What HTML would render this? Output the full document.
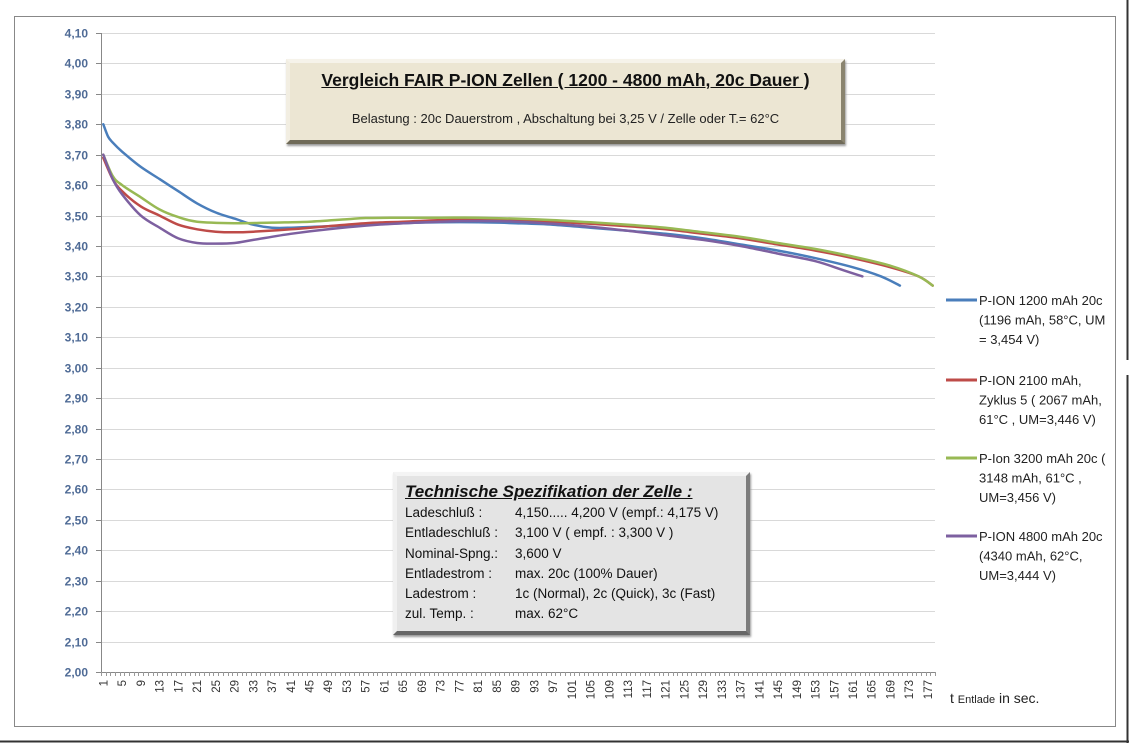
<!DOCTYPE html>
<html><head><meta charset="utf-8"><style>
body{margin:0;width:1129px;height:743px;background:#fff;overflow:hidden;font-family:"Liberation Sans",sans-serif}
svg{position:absolute;left:0;top:0}
.box{position:absolute;box-sizing:border-box;font-family:"Liberation Sans",sans-serif}
</style></head><body>
<svg id="chart" width="1129" height="743">
<rect x="14.5" y="16.5" width="1101" height="710" fill="#fff" stroke="#888" stroke-width="1"/>
<line x1="0" y1="741.5" x2="1129" y2="741.5" stroke="#333" stroke-width="2"/>
<line x1="1127.5" y1="0" x2="1127.5" y2="360" stroke="#333" stroke-width="2"/>
<line x1="1127.5" y1="375" x2="1127.5" y2="743" stroke="#333" stroke-width="2"/>
<g id="grid"></g><g id="axes"></g><g id="series"></g><g id="legend"></g>
<text x="950" y="703" font-size="14" fill="#222">t <tspan font-size="11">Entlade</tspan> in sec.</text>
</svg>
<div class="box" style="left:286px;top:59px;width:559px;height:85px;background:#ece6d3;border-style:solid;border-width:4px;border-color:#f6f3ea #8a846f #6f6a58 #f2eee2;box-shadow:1px 2px 2px #999;text-align:center">
<div style="font-size:17.5px;font-weight:bold;text-decoration:underline;color:#111;margin-top:7px">Vergleich FAIR P-ION Zellen ( 1200 - 4800 mAh, 20c Dauer )</div>
<div style="font-size:13px;color:#222;margin-top:20px">Belastung : 20c Dauerstrom , Abschaltung bei 3,25 V / Zelle oder T.= 62°C</div>
</div>
<div class="box" style="left:393px;top:472px;width:357px;height:163px;background:#e4e4e4;border-style:solid;border-width:4px;border-color:#f4f4f4 #7c7c7c #666 #f0f0f0;box-shadow:1px 2px 2px #999;padding:5px 0 0 8px;font-size:13.5px;color:#111;line-height:20.3px">
<div style="font-size:17px;font-weight:bold;font-style:italic;text-decoration:underline;line-height:22px">Technische Spezifikation der Zelle :</div>
<div><span style="display:inline-block;width:110px">Ladeschluß :</span>4,150..... 4,200 V (empf.: 4,175 V)</div>
<div><span style="display:inline-block;width:110px">Entladeschluß :</span>3,100 V ( empf. : 3,300 V )</div>
<div><span style="display:inline-block;width:110px">Nominal-Spng.:</span>3,600 V</div>
<div><span style="display:inline-block;width:110px">Entladestrom :</span>max. 20c (100% Dauer)</div>
<div><span style="display:inline-block;width:110px">Ladestrom :</span>1c (Normal), 2c (Quick), 3c (Fast)</div>
<div><span style="display:inline-block;width:110px">zul. Temp. :</span>max. 62°C</div>
</div>
<script>
const yTicks=[2.0,2.1,2.2,2.3,2.4,2.5,2.6,2.7,2.8,2.9,3.0,3.1,3.2,3.3,3.4,3.5,3.6,3.7,3.8,3.9,4.0,4.1];
const nCategories=178;
const blueX=[1,2,3,5,9,13,17,21,25,29,33,37,41,49,57,65,73,81,89,97,105,113,121,129,137,145,153,161,167,171];
const blueY=[3.80,3.76,3.74,3.71,3.66,3.62,3.58,3.54,3.51,3.49,3.47,3.46,3.46,3.465,3.47,3.475,3.478,3.478,3.475,3.47,3.46,3.45,3.44,3.425,3.405,3.385,3.36,3.33,3.30,3.27];
const redX=[1,3,5,9,13,17,21,25,29,33,41,49,57,65,73,81,89,97,105,113,121,129,137,145,153,161,169,175,178];
const redY=[3.69,3.62,3.58,3.53,3.50,3.47,3.455,3.447,3.445,3.447,3.455,3.465,3.475,3.48,3.485,3.488,3.485,3.48,3.473,3.465,3.455,3.44,3.425,3.405,3.385,3.36,3.33,3.30,3.27];
const greenX=[1,3,5,9,13,17,21,29,37,45,53,57,65,73,81,89,97,105,113,121,129,137,145,153,161,169,175,178];
const greenY=[3.70,3.63,3.60,3.56,3.52,3.495,3.48,3.475,3.477,3.48,3.488,3.492,3.493,3.493,3.493,3.49,3.485,3.478,3.47,3.46,3.445,3.43,3.41,3.39,3.365,3.335,3.30,3.27];
const purpleX=[1,3,5,9,13,17,21,25,29,33,41,49,57,65,73,81,89,97,105,113,121,129,137,145,153,159,163];
const purpleY=[3.70,3.62,3.57,3.50,3.46,3.425,3.41,3.408,3.41,3.42,3.44,3.455,3.467,3.475,3.48,3.482,3.48,3.473,3.463,3.45,3.435,3.42,3.40,3.375,3.35,3.32,3.30];
const legendLabels=[["P-ION 1200 mAh 20c","(1196 mAh, 58°C, UM","= 3,454 V)"],["P-ION 2100 mAh,","Zyklus 5  ( 2067 mAh,","61°C , UM=3,446 V)"],["P-Ion 3200 mAh 20c (","3148 mAh, 61°C ,","UM=3,456 V)"],["P-ION 4800 mAh 20c","(4340 mAh, 62°C,","UM=3,444 V)"]];
const colors=["#4a7ebb","#be4b48","#98b954","#7d60a0"];
const seriesNames=["series-1200mah","series-2100mah","series-3200mah","series-4800mah"];
const L=101,R=935,T=33,B=672,yMin=2.0,yMax=4.1;
const NS="http://www.w3.org/2000/svg";
const xs=i=>L+(i-0.5)*(R-L)/nCategories;
const ys=v=>B-(v-yMin)/(yMax-yMin)*(B-T);
function mk(tag,attrs,parent){const e=document.createElementNS(NS,tag);for(const k in attrs)e.setAttribute(k,attrs[k]);parent.appendChild(e);return e;}
function smoothPath(P){let d='M'+P[0][0].toFixed(1)+','+P[0][1].toFixed(1);
 for(let i=0;i<P.length-1;i++){const p0=P[Math.max(i-1,0)],p1=P[i],p2=P[i+1],p3=P[Math.min(i+2,P.length-1)];
  const c1=[p1[0]+(p2[0]-p0[0])/6,p1[1]+(p2[1]-p0[1])/6],c2=[p2[0]-(p3[0]-p1[0])/6,p2[1]-(p3[1]-p1[1])/6];
  d+=` C${c1[0].toFixed(1)},${c1[1].toFixed(1)} ${c2[0].toFixed(1)},${c2[1].toFixed(1)} ${p2[0].toFixed(1)},${p2[1].toFixed(1)}`;}
 return d;}
const grid=document.getElementById('grid'),axes=document.getElementById('axes'),ser=document.getElementById('series'),leg=document.getElementById('legend');
yTicks.forEach(v=>{const y=Math.round(ys(v))+0.5;
 if(v>2.0){const g=mk('line',{x1:L,x2:R,y1:y,y2:y,stroke:'#d9d9d9','stroke-width':1},grid);
 
 }
 const t=mk('line',{x1:L-5,x2:L,y1:y,y2:y,stroke:'#888'},axes);
 
 
 const lb=mk('text',{x:L-13,y:y+4,'text-anchor':'end','font-size':12,'font-weight':'bold',fill:'#4f6b96'},axes);
 lb.textContent=v.toFixed(2).replace('.',',');
 
 
});
const ya=mk('line',{x1:L+0.5,x2:L+0.5,y1:T,y2:B,stroke:'#888'},axes);


const xa=mk('line',{x1:L,x2:R,y1:B+0.5,y2:B+0.5,stroke:'#888'},axes);


for(let i=0;i<=nCategories;i++){const x=Math.round(L+i*(R-L)/nCategories)+0.5;
 const t=mk('line',{x1:x,x2:x,y1:B,y2:B+4,stroke:'#999'},axes);
 
 }
for(let i=1;i<=177;i+=4){const x=xs(i);
 const lb=mk('text',{x:0,y:0,transform:`translate(${x+4},${B+8}) rotate(-90)`,'text-anchor':'end','font-size':11.5,fill:'#333'},axes);
 lb.textContent=i;
 
 }
[[blueX,blueY],[redX,redY],[greenX,greenY],[purpleX,purpleY]].forEach((s,k)=>{
 const P=s[0].map((xv,j)=>[xs(xv),ys(s[1][j])]);
 const p=mk('path',{d:smoothPath(P),fill:'none',stroke:colors[k],'stroke-width':2.5,'stroke-linejoin':'round','stroke-linecap':'round'},ser);
 
 
});
const legY=[300,380,458,536];
legendLabels.forEach((lines,k)=>{
 const y=legY[k];
 const l=mk('line',{x1:946,x2:977,y1:y,y2:y,stroke:colors[k],'stroke-width':3},leg);
 
 
 lines.forEach((s,j)=>{const t=mk('text',{x:979,y:y+5+j*19.5,'font-size':13,fill:'#222'},leg);
 t.textContent=s;
 
 });
});
</script>
</body></html>
